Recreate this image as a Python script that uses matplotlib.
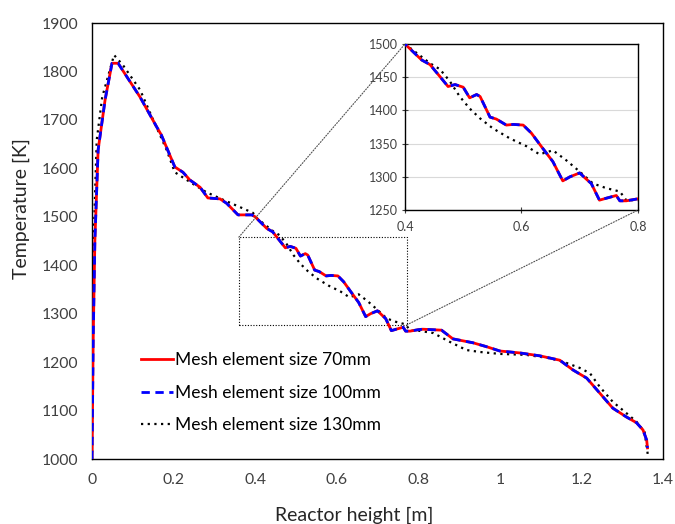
import matplotlib
matplotlib.use("Agg")
import matplotlib.pyplot as plt
from matplotlib.patches import Rectangle, ConnectionPatch

plt.rcParams['font.family'] = ['Lato', 'DejaVu Sans']

# mesh 70mm (red) and 100mm (blue) are practically the same curve
x_70 = [0, 0.003, 0.007, 0.015, 0.032, 0.049, 0.064, 0.118, 0.159, 0.17, 0.203,
        0.223, 0.24, 0.265, 0.284, 0.314, 0.33, 0.358, 0.392, 0.4, 0.4286, 0.443,
        0.46, 0.474, 0.486, 0.5, 0.511, 0.523, 0.529, 0.546, 0.557, 0.574, 0.586,
        0.603, 0.617, 0.634, 0.654, 0.671, 0.683, 0.7, 0.711, 0.72, 0.734, 0.746,
        0.763, 0.769, 0.78, 0.8, 0.811, 0.857, 0.885, 0.934, 0.967, 1.0, 1.049,
        1.098, 1.147, 1.179, 1.213, 1.245, 1.277, 1.31, 1.335, 1.351, 1.36, 1.362]
t_70 = [1000, 1250, 1450, 1638, 1741, 1817, 1817, 1747, 1685, 1669, 1603,
        1592, 1576, 1561, 1539, 1537, 1528, 1504, 1504, 1500, 1476, 1469,
        1451, 1436, 1439, 1435, 1419, 1424, 1421, 1390, 1387, 1378, 1379,
        1378, 1366, 1346, 1323, 1294, 1300, 1306, 1297, 1290, 1265, 1268,
        1272, 1264, 1264, 1267, 1268, 1266, 1248, 1240, 1232, 1223, 1219,
        1213, 1204, 1184, 1167, 1136, 1105, 1087, 1075, 1060, 1039, 1023]
x_100 = x_70
t_100 = t_70

x_130 = [0, 0.004, 0.0115, 0.025, 0.054, 0.076, 0.118, 0.147, 0.183, 0.203,
         0.24, 0.28, 0.322, 0.363, 0.395, 0.4, 0.443, 0.46, 0.477, 0.494, 0.511,
         0.529, 0.551, 0.58, 0.609, 0.631, 0.654, 0.677, 0.7, 0.723, 0.746,
         0.769, 0.78, 0.8, 0.837, 0.877, 0.918, 0.951, 1.0, 1.065, 1.123, 1.155,
         1.196, 1.221, 1.245, 1.277, 1.31, 1.335, 1.355, 1.36, 1.363]
t_130 = [1000, 1450, 1658, 1747, 1834, 1813, 1762, 1706, 1638, 1592,
         1572, 1551, 1535, 1520, 1508, 1500, 1471, 1462, 1444, 1421, 1403,
         1388, 1373, 1358, 1346, 1334, 1340, 1325, 1308, 1290, 1283,
         1278, 1265, 1265, 1260, 1242, 1225, 1221, 1217, 1215, 1208, 1201,
         1188, 1177, 1149, 1118, 1095, 1077, 1056, 1025, 1008]

labels = ["Mesh element size 70mm", "Mesh element size 100mm", "Mesh element size 130mm"]
x_ticks = [0, 0.2, 0.4, 0.6, 0.8, 1, 1.2, 1.4]
x_ticklabels = ["0", "0.2", "0.4", "0.6", "0.8", "1", "1.2", "1.4"]
y_ticks = [1000, 1100, 1200, 1300, 1400, 1500, 1600, 1700, 1800, 1900]
zoom_box = (0.36, 1277, 0.772, 1458)  # x0, y0, x1, y1 of the dotted frame

tick_col = "#404040"


def draw_curves(ax, lw=2.0):
    ax.plot(x_70, t_70, color="red", lw=lw, label=labels[0], zorder=3)
    ax.plot(x_100, t_100, color="blue", lw=lw, ls=(0, (3, 2)), label=labels[1], zorder=4)
    ax.plot(x_130, t_130, color="black", lw=lw * 0.8, ls=(0, (1, 2)), label=labels[2], zorder=2)


fig = plt.figure(figsize=(6.75, 5.24), dpi=100)
ax = fig.add_axes([0.1363, 0.124, 0.8459, 0.832])
draw_curves(ax)
ax.set_xlim(0, 1.4)
ax.set_ylim(1000, 1900)
ax.set_xticks(x_ticks)
ax.set_xticklabels(x_ticklabels)
ax.set_yticks(y_ticks)
ax.tick_params(length=0, labelsize=11.3, colors=tick_col)
ax.tick_params(axis="x", pad=10)
ax.tick_params(axis="y", pad=10)
for s in ax.spines.values():
    s.set_color("black")
    s.set_linewidth(1.0)
ax.set_xlabel("Reactor height [m]", fontsize=14, color="#262626")
ax.set_ylabel("Temperature [K]", fontsize=14, color="#262626")
ax.xaxis.set_label_coords(0.46, -0.11)
ax.yaxis.set_label_coords(-0.108, 0.575)

ax.legend(loc="center left", bbox_to_anchor=(0.07, 0.152), frameon=False,
          fontsize=12.5, handlelength=1.85, handletextpad=0.15, labelspacing=0.95,
          borderpad=0)

x0, y0, x1, y1 = zoom_box
ax.add_patch(Rectangle((x0, y0), x1 - x0, y1 - y0, fill=False, ec="black",
                       lw=0.8, ls=(0, (1, 1.5)), zorder=1))

# inset
ins = fig.add_axes([0.6, 0.599, 0.345, 0.317])
draw_curves(ins, lw=2.0)
ins.set_xlim(0.4, 0.8)
ins.set_ylim(1250, 1500)
ins.set_xticks([0.4, 0.6, 0.8])
ins.set_yticks([1250, 1300, 1350, 1400, 1450, 1500])
ins.yaxis.grid(True, color="#d9d9d9", lw=0.8)
ins.set_axisbelow(True)
ins.tick_params(labelsize=9, colors=tick_col, direction="inout", length=4)
ins.tick_params(axis="y", pad=3)
ins.tick_params(axis="x", pad=6)
for s in ins.spines.values():
    s.set_color("black")
    s.set_linewidth(1.0)

for (xa, ya), (xb, yb) in [((x0, y1), (0.4, 1500)), ((x1, y0), (0.8, 1250))]:
    con = ConnectionPatch(xyA=(xa, ya), coordsA=ax.transData,
                          xyB=(xb, yb), coordsB=ins.transData,
                          color="#505050", lw=0.8, ls=(0, (1, 1.5)))
    fig.add_artist(con)

fig.savefig("out.png", dpi=100)
